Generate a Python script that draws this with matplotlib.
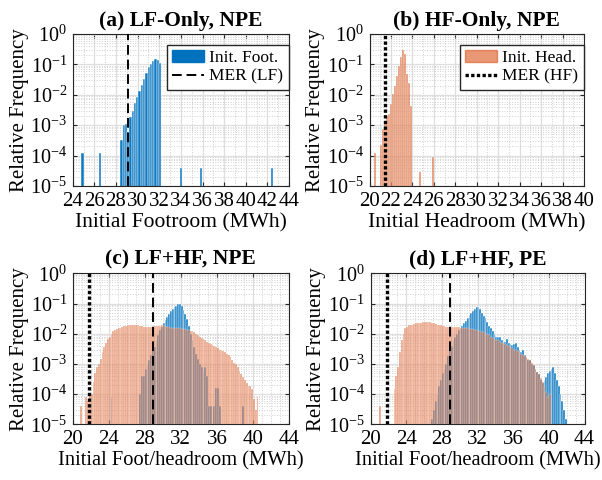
import numpy as np
import matplotlib
matplotlib.use("Agg")
import matplotlib.pyplot as plt
from matplotlib.ticker import LogLocator, MultipleLocator, NullFormatter

plt.rcParams['font.family'] = ['Liberation Serif', 'DejaVu Serif']
plt.rcParams['mathtext.fontset'] = 'custom'
plt.rcParams['mathtext.rm'] = 'Liberation Serif'
plt.rcParams['mathtext.it'] = 'Liberation Serif:italic'

BLUE = '#0072BD'
ORANGE = '#D95319'

# ---- (a) LF-only, NPE : initial footroom histogram
a_start, a_width = 28.4, 0.21
a_freq = [3.3e-4, 1.0e-3, 1.1e-3, 6e-4, 1.8e-3, 3e-3, 5.2e-3, 8.7e-3, 1.3e-2,
          2.1e-2, 3.4e-2, 5.1e-2, 8e-2, 0.10, 0.126, 0.147, 0.14, 0.11]
a_out_x = [24.9, 26.5, 34.0, 35.85, 42.45]
a_out_f = [1.2e-4, 1.2e-4, 4e-5, 4e-5, 4e-5]
mer_lf_a = 29.15

# ---- (b) HF-only, NPE : initial headroom histogram
b_start, b_width = 20.95, 0.19
b_freq = [2.2e-4, 7.6e-4, 1.2e-3, 2e-3, 2.3e-3, 5e-3, 1.1e-2, 1.9e-2, 4e-2,
          9e-2, 0.18, 0.30, 0.22, 5e-2, 2.4e-2, 4.3e-3]
b_out_x = [20.5, 24.67, 25.92]
b_out_f = [1.2e-4, 2.8e-5, 8.7e-5]
mer_hf_b = 21.47

# ---- (c), (d) common bin grid
cd_start, cd_width = 20.8, 0.2

c_head = [4e-5, 0, 0, 8e-5, 6e-5, 1e-4, 1e-4, 2.5e-4, 5e-4, 8e-4,
          1e-3, 1.5e-3, 2.5e-3, 3.7e-3, 5e-3, 6.5e-3, 8e-3, 1e-2, 1.2e-2, 1.3e-2,
          1.4e-2, 1.5e-2, 1.6e-2, 1.7e-2, 1.8e-2, 1.8e-2, 1.9e-2, 2e-2, 2e-2, 2e-2,
          2e-2, 1.9e-2, 1.9e-2, 1.8e-2, 1.8e-2, 1.7e-2, 1.7e-2, 1.7e-2, 1.7e-2, 1.7e-2,
          1.7e-2, 1.8e-2, 1.8e-2, 1.8e-2, 1.8e-2, 1.9e-2, 1.8e-2, 1.8e-2, 1.7e-2, 1.7e-2,
          1.6e-2, 1.6e-2, 1.6e-2, 1.5e-2, 1.5e-2, 1.5e-2, 1.4e-2, 1.4e-2, 1.4e-2, 1.3e-2,
          1.3e-2, 1.2e-2, 1.2e-2, 1.1e-2, 1e-2, 9e-3, 8e-3, 7e-3, 6.5e-3, 6e-3,
          5.5e-3, 5e-3, 4.5e-3, 4.2e-3, 4e-3, 3.7e-3, 3.4e-3, 3e-3, 2.9e-3, 2.6e-3,
          2.4e-3, 2.2e-3, 2e-3, 1.7e-3, 1.4e-3, 1.1e-3, 1e-3, 8e-4, 6e-4, 4.5e-4,
          3.7e-4, 3e-4, 2.3e-4, 1.8e-4, 1.8e-4, 1.5e-4, 7e-5, 3e-5, 8e-5, 0]
c_foot = [0] * 17 + [8e-5] + [0] * 15 + [
          1e-4, 4e-4, 4e-4, 7e-4, 9e-4, 1.3e-3, 2e-3, 2.8e-3, 3.7e-3, 6e-3,
          9e-3, 1.3e-2, 1.7e-2, 2.2e-2, 2.8e-2, 3.5e-2, 4.5e-2, 5.5e-2, 6.5e-2, 7.4e-2,
          8.5e-2, 9.3e-2, 9.3e-2, 8e-2, 6e-2, 4.5e-2, 3e-2, 1.8e-2, 1e-2, 6e-3,
          3.7e-3, 2.2e-3, 1.5e-3, 1e-3, 8e-4, 6e-4, 8e-4, 4e-4, 4e-5, 4e-5,
          0, 4e-5, 1.6e-4, 1.6e-4, 4e-5, 0, 0, 0, 0, 0,
          0, 0, 0, 0, 0, 0, 0, 4e-5, 0, 0, 0, 0, 0, 0, 0, 0, 0]

d_head = [0, 4e-5, 0, 0, 0, 0, 0, 0, 0, 1.5e-4,
          4e-4, 8e-4, 2.5e-3, 6e-3, 1e-2, 1.5e-2, 1.7e-2, 1.9e-2, 2e-2, 2e-2,
          2.1e-2, 2.2e-2, 2.2e-2, 2.3e-2, 2.3e-2, 2.4e-2, 2.5e-2, 2.5e-2, 2.5e-2, 2.4e-2,
          2.3e-2, 2.2e-2, 2.1e-2, 2e-2, 2e-2, 1.9e-2, 1.8e-2, 1.8e-2, 1.7e-2, 1.7e-2,
          1.7e-2, 1.7e-2, 1.7e-2, 1.7e-2, 1.7e-2, 1.7e-2, 1.6e-2, 1.6e-2, 1.5e-2, 1.5e-2,
          1.5e-2, 1.4e-2, 1.4e-2, 1.4e-2, 1.3e-2, 1.3e-2, 1.2e-2, 1.2e-2, 1.1e-2, 1.1e-2,
          1e-2, 1e-2, 9e-3, 8e-3, 7e-3, 6.5e-3, 6e-3, 6e-3, 5.5e-3, 5e-3,
          4.8e-3, 4.5e-3, 4.2e-3, 4e-3, 3.6e-3, 3.3e-3, 3e-3, 2.8e-3, 2.6e-3, 2.5e-3,
          2.2e-3, 2e-3, 1.8e-3, 1.7e-3, 1.5e-3, 1.3e-3, 1.1e-3, 9e-4, 7e-4, 5.5e-4,
          4.5e-4, 3.5e-4, 2.5e-4, 1.8e-4, 1.2e-4, 8e-5, 1e-4, 0, 0, 0,
          0, 0, 0, 0, 0, 0, 0]
d_foot = [0] * 30 + [
          1.5e-5, 3e-5, 6e-5, 1e-4, 1.8e-4, 3e-4, 5e-4, 7e-4, 1e-3, 1.8e-3,
          2.9e-3, 4e-3, 6e-3, 8e-3, 1e-2, 1.3e-2, 1.5e-2, 1.8e-2, 2.2e-2, 2.7e-2,
          3.3e-2, 4.2e-2, 5e-2, 5.8e-2, 6.5e-2, 7.4e-2, 7.8e-2, 6.5e-2, 5e-2, 4e-2,
          3.2e-2, 2.4e-2, 1.8e-2, 1.5e-2, 1.2e-2, 1e-2, 8e-3, 7.6e-3, 8e-3, 6e-3,
          5.5e-3, 5.5e-3, 6.5e-3, 5e-3, 4.5e-3, 4.3e-3, 4.5e-3, 4.8e-3, 3.5e-3, 2.8e-3,
          2.5e-3, 2.8e-3, 2e-3, 1.6e-3, 1.4e-3, 1.4e-3, 1e-3, 9e-4, 7e-4, 5.5e-4,
          4.5e-4, 3e-4, 2.3e-4, 2.8e-4, 3.8e-4, 5e-4, 6e-4, 7e-4, 8e-4, 5e-4,
          3e-4, 1.8e-4, 1e-4, 6e-5, 3e-5, 1.5e-5, 1e-5]
mer_lf_cd = 28.88
mer_hf_cd = 21.8

DASH = (0, (5, 2.5))
DOT = (0, (1, 0.7))


def draw_hist(ax, centers, freq, width, color, alpha, z):
    f = np.asarray(freq, dtype=float)
    c = np.asarray(centers, dtype=float)
    keep = f > 0
    ax.bar(c[keep], f[keep], width=width, bottom=1e-7, color=color, alpha=alpha,
           edgecolor='white', linewidth=0.35, zorder=z)


def style(ax, xlim, major, minor, xlabel, xlsize):
    ax.set_yscale('log')
    ax.set_ylim(1e-5, 1)
    ax.set_xlim(*xlim)
    ax.xaxis.set_major_locator(MultipleLocator(major))
    ax.xaxis.set_minor_locator(MultipleLocator(minor))
    ax.yaxis.set_major_locator(LogLocator(base=10, numticks=10))
    ax.yaxis.set_minor_locator(LogLocator(base=10, subs=np.arange(2, 10), numticks=10))
    ax.yaxis.set_minor_formatter(NullFormatter())
    ax.grid(which='major', color='#dedede', linewidth=0.9, zorder=0)
    ax.grid(which='minor', color='#d0d0d0', linestyle=':', linewidth=0.7, zorder=0)
    ax.set_axisbelow(True)
    ax.tick_params(which='both', direction='in', top=True, right=True,
                   color='#262626', pad=4)
    ax.tick_params(axis='x', labelsize=15)
    ax.tick_params(axis='y', labelsize=14.5)
    ax.tick_params(which='major', length=3)
    ax.tick_params(which='minor', length=0)
    for s in ax.spines.values():
        s.set_color('#262626')
        s.set_linewidth(0.8)
    ax.set_ylabel('Relative Frequency', fontsize=15, labelpad=1)
    ax.set_xlabel(xlabel, fontsize=xlsize, labelpad=2)


fig = plt.figure(figsize=(6.02, 4.80), dpi=100)
axa = fig.add_axes([0.1208, 0.6125, 0.3593, 0.3167])
axb = fig.add_axes([0.6138, 0.6125, 0.3563, 0.3167])
axc = fig.add_axes([0.1208, 0.1160, 0.3593, 0.3146])
axd = fig.add_axes([0.6155, 0.1160, 0.3555, 0.3146])

leg_kw = dict(loc='upper right', fontsize=12.5, fancybox=False, edgecolor='#262626',
              framealpha=1, borderpad=0.3, borderaxespad=0, handlelength=1.85,
              handletextpad=0.3, labelspacing=0.15, bbox_to_anchor=(0.998, 0.93))

# (a)
a_x = a_start + a_width * (np.arange(len(a_freq)) + 0.5)
draw_hist(axa, np.concatenate([a_x, a_out_x]), a_freq + a_out_f, a_width, BLUE, 0.95, 2)
axa.axvline(mer_lf_a, color='black', linestyle=DASH, linewidth=1.4, zorder=3)
style(axa, (24, 44), 2, 1, 'Initial Footroom (MWh)', 15.5)
axa.set_title('(a) LF-Only, NPE', fontsize=15.5, fontweight='bold', pad=6)
h1 = plt.Rectangle((0, 0), 1, 1, color=BLUE)
h2 = plt.Line2D([], [], color='black', linestyle=DASH, linewidth=1.4)
axa.legend([h1, h2], ['Init. Foot.', 'MER (LF)'], **leg_kw)

# (b)
b_x = b_start + b_width * (np.arange(len(b_freq)) + 0.5)
draw_hist(axb, np.concatenate([b_x, b_out_x]), b_freq + b_out_f, b_width, ORANGE, 0.6, 2)
axb.axvline(mer_hf_b, color='black', linestyle=DOT, linewidth=2.4, zorder=3)
style(axb, (20, 40), 2, 1, 'Initial Headroom (MWh)', 15.5)
axb.set_title('(b) HF-Only, NPE', fontsize=15.5, fontweight='bold', pad=6)
h3 = plt.Rectangle((0, 0), 1, 1, color=ORANGE, alpha=0.6)
h4 = plt.Line2D([], [], color='black', linestyle=DOT, linewidth=2.4)
axb.legend([h3, h4], ['Init. Head.', 'MER (HF)'], **leg_kw)

# (c), (d)
for ax, foot, head, title in [(axc, c_foot, c_head, '(c) LF+HF, NPE'),
                              (axd, d_foot, d_head, '(d) LF+HF, PE')]:
    xf = cd_start + cd_width * (np.arange(len(foot)) + 0.5)
    xh = cd_start + cd_width * (np.arange(len(head)) + 0.5)
    draw_hist(ax, xf, foot, cd_width, BLUE, 1.0, 2)
    draw_hist(ax, xh, head, cd_width, ORANGE, 0.5, 3)
    ax.axvline(mer_lf_cd, color='black', linestyle=DASH, linewidth=1.4, zorder=4)
    ax.axvline(mer_hf_cd, color='black', linestyle=DOT, linewidth=2.4, zorder=4)
    style(ax, (20, 44), 4, 1, 'Initial Foot/headroom (MWh)', 14.8)
    ax.set_title(title, fontsize=15.5, fontweight='bold', pad=6)

fig.savefig('out.png', dpi=100)
